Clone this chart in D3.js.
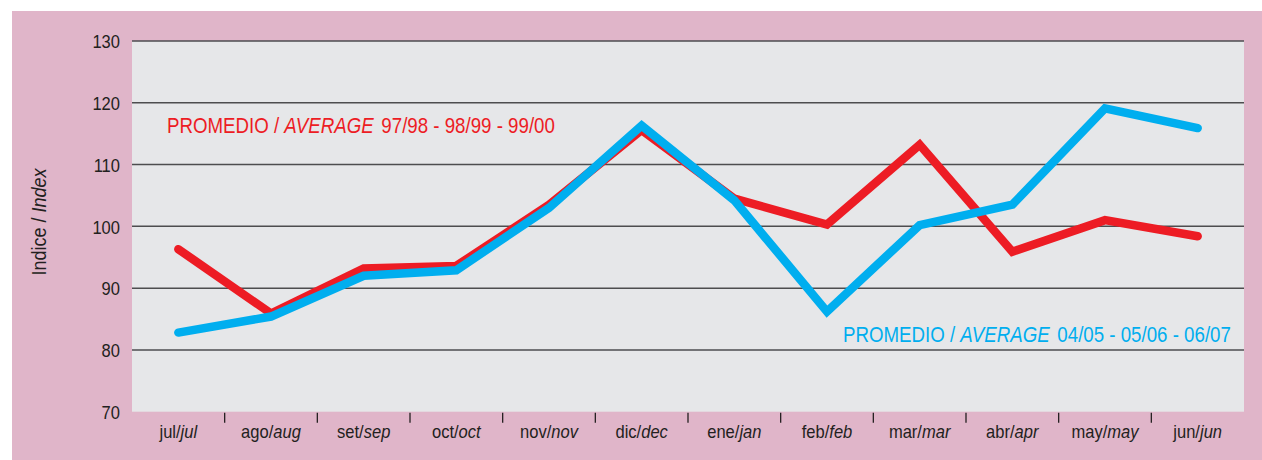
<!DOCTYPE html>
<html>
<head>
<meta charset="utf-8">
<script src="https://cdn.jsdelivr.net/npm/d3@7"></script>
<style>
  html, body { margin: 0; padding: 0; background: #fff; }
  svg { display: block; }
  text { font-family: "Liberation Sans", Arial, sans-serif; }
</style>
</head>
<body>
<svg id="chart"></svg>
<script>
// months, spanish / english
const monthsEs = ['jul', 'ago', 'set', 'oct', 'nov', 'dic', 'ene', 'feb', 'mar', 'abr', 'may', 'jun'];
const monthsEn = ['jul', 'aug', 'sep', 'oct', 'nov', 'dec', 'jan', 'feb', 'mar', 'apr', 'may', 'jun'];

// promedio 97/98 - 98/99 - 99/00
const avgOld = [96.3, 85.9, 93.2, 93.6, 103.5, 115.6, 104.5, 100.3, 113.2, 95.9, 101.0, 98.4];
// promedio 04/05 - 05/06 - 06/07
const avgNew = [82.8, 85.4, 92.0, 92.9, 103.0, 116.3, 104.2, 86.2, 100.2, 103.5, 119.1, 115.9];

const yTicks = [70, 80, 90, 100, 110, 120, 130];

const W = 1262, H = 460;
const plot = { left: 132, right: 1244, top: 41, bottom: 411.7 };
const narrow = 0.85; // no condensed font installed, squeeze horizontally

const svg = d3.select('#chart')
    .attr('width', W)
    .attr('height', H);

// pink frame
svg.append('rect')
    .attr('x', 12).attr('y', 11)
    .attr('width', W - 12).attr('height', H - 11)
    .attr('fill', '#e0b5c9');

// plot background
svg.append('rect')
    .attr('x', plot.left).attr('y', plot.top)
    .attr('width', plot.right - plot.left).attr('height', plot.bottom - plot.top)
    .attr('fill', '#e6e7e9');

const x = d3.scaleBand()
    .domain(monthsEs)
    .range([plot.left, plot.right]);

const y = d3.scaleLinear()
    .domain([70, 130])
    .range([plot.bottom, plot.top]);

// gridlines (none on the 70 baseline)
svg.append('g')
    .selectAll('line')
    .data(yTicks.filter(d => d > 70))
    .join('line')
    .attr('x1', plot.left).attr('x2', plot.right)
    .attr('y1', d => y(d)).attr('y2', d => y(d))
    .attr('stroke', '#4d4d4f')
    .attr('stroke-width', 1.5);

// y axis labels
const yAxis = d3.axisLeft(y)
    .tickValues(yTicks)
    .tickSize(0);

const gY = svg.append('g')
    .attr('transform', `translate(${plot.left},0)`)
    .call(yAxis);
gY.select('.domain').remove();
gY.selectAll('text')
    .attr('x', null)
    .attr('transform', 'translate(-12,0) scale(0.87,1)')
    .attr('fill', '#231f20')
    .style('font-family', '"Liberation Sans", Arial, sans-serif')
    .style('font-size', '19px')
    .attr('dy', '0.35em');

// x axis ticks on category boundaries
svg.append('g')
    .selectAll('line')
    .data(monthsEs.slice(1))
    .join('line')
    .attr('x1', d => x(d)).attr('x2', d => x(d))
    .attr('y1', plot.bottom + 1).attr('y2', plot.bottom + 11)
    .attr('stroke', '#231f20')
    .attr('stroke-width', 1.3);

// x labels
const xl = svg.append('g')
    .selectAll('text')
    .data(monthsEs)
    .join('text')
    .attr('transform', d => `translate(${x(d) + x.bandwidth() / 2},438) scale(0.92,1)`)
    .attr('text-anchor', 'middle')
    .attr('fill', '#231f20')
    .style('font-size', '18px');
xl.append('tspan').text(d => d + '/');
xl.append('tspan').style('font-style', 'italic').text((d, i) => monthsEn[i]);

// y title
const yt = svg.append('text')
    .attr('transform', 'translate(46,222) rotate(-90) scale(0.9,1)')
    .attr('text-anchor', 'middle')
    .attr('fill', '#231f20')
    .style('font-size', '20px');
yt.append('tspan').text('Indice / ');
yt.append('tspan').style('font-style', 'italic').text('Index');

// lines
const line = d3.line()
    .x((d, i) => x(monthsEs[i]) + x.bandwidth() / 2)
    .y(d => y(d));

const series = [
    { values: avgOld, color: '#ed1c24' },
    { values: avgNew, color: '#00aeef' }
];

svg.append('g')
    .selectAll('path')
    .data(series)
    .join('path')
    .attr('d', d => line(d.values))
    .attr('fill', 'none')
    .attr('stroke', d => d.color)
    .attr('stroke-width', 8.5)
    .attr('stroke-linecap', 'round')
    .attr('stroke-linejoin', 'miter');

// series labels
function seriesLabel(px, py, color, years) {
    const t = svg.append('text')
        .attr('transform', `translate(${px},${py}) scale(${narrow},1)`)
        .attr('fill', color)
        .style('font-size', '22px');
    t.append('tspan').text('PROMEDIO / ');
    t.append('tspan').style('font-style', 'italic').text('AVERAGE');
    t.append('tspan').attr('dx', 9).text(years);
    return t;
}

seriesLabel(167, 133, '#ed1c24', '97/98 - 98/99 - 99/00');
seriesLabel(843, 342, '#00aeef', '04/05 - 05/06 - 06/07');
</script>
</body>
</html>
